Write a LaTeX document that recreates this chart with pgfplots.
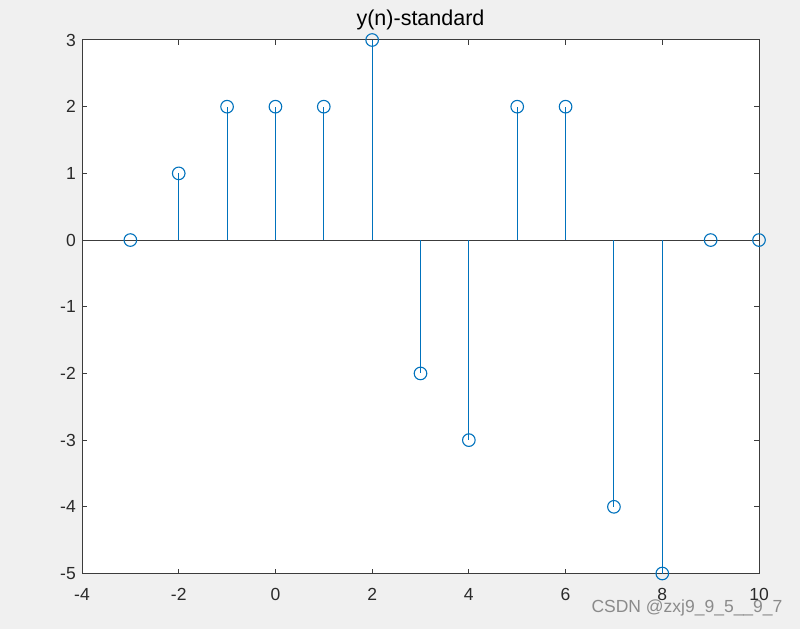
\documentclass[border=0pt]{standalone}
\usepackage{pgfplots}
\pgfplotsset{compat=1.18}
\usepackage{fontspec}
\setmainfont{Liberation Sans}
\definecolor{bg}{RGB}{240,240,240}
\definecolor{ax}{RGB}{60,60,60}
\definecolor{stemc}{RGB}{0,114,189}
\begin{document}
\begin{tikzpicture}
\useasboundingbox (-82pt,-55.5pt) rectangle (718pt,573.5pt);
\fill[bg] (-82pt,-55.5pt) rectangle (718pt,573.5pt);
\begin{axis}[
  at={(0pt,0pt)}, anchor=south west,
  scale only axis, width=677pt, height=533.5pt,
  xmin=-4, xmax=10, ymin=-5, ymax=3,
  clip=false,
  axis background/.style={fill=white},
  axis line style={ax, line width=1pt},
  every tick/.style={ax, line width=1pt},
  major tick length=5pt,
  tick align=inside,
  xtick={-4,-2,0,2,4,6,8,10},
  xticklabels={-4,-2,0,2,4,6,8,10},
  ytick={-5,-4,-3,-2,-1,0,1,2,3},
  yticklabels={-5,-4,-3,-2,-1,0,1,2,3},
  tick label style={font=\fontsize{17.5}{20}\selectfont, text=ax!70!black, inner sep=0pt},
  xticklabel style={anchor=north, yshift=-14.5pt},
  yticklabel style={anchor=east, xshift=-6pt},
  title={y(n)-standard},
  title style={at={(0.5,1)}, anchor=base, yshift=8.3pt, inner sep=0pt, font=\fontsize{21.5}{24}\selectfont, text=black},
]
\addplot[ax, line width=1pt, no marks] coordinates {(-4,0) (10,0)};
\addplot[ycomb, stemc, line width=1.1pt, mark=o, mark size=6.3pt, mark options={stemc, line width=1.1pt, fill=none}] coordinates {
(-3,0) (-2,1) (-1,2) (0,2) (1,2) (2,3) (3,-2) (4,-3) (5,2) (6,2) (7,-4) (8,-5) (9,0) (10,0)
};
\end{axis}
\node[font=\fontsize{17.5}{20}\selectfont, text=black!50, opacity=0.9, inner sep=0pt] at (605pt,-34.5pt) {CSDN @zxj9\_9\_5\_\_9\_7};
\end{tikzpicture}
\end{document}
